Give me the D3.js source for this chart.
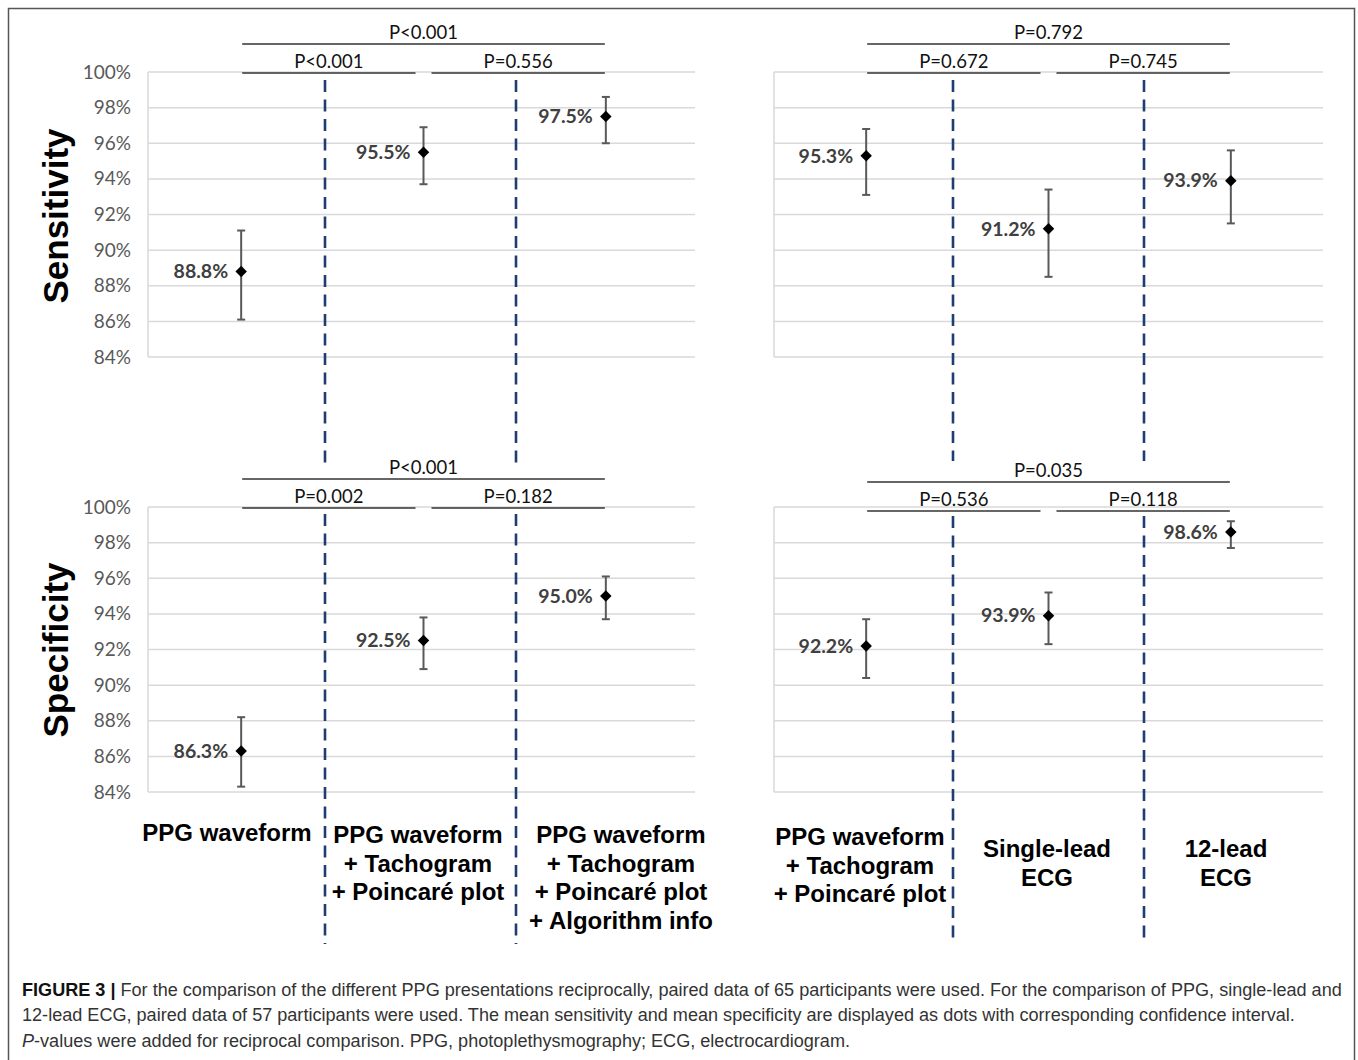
<!DOCTYPE html>
<html>
<head>
<meta charset="utf-8">
<script src="https://cdn.jsdelivr.net/npm/d3@7"></script>
<style>
  html, body { margin: 0; padding: 0; background: #fff; }
  svg { display: block; }
</style>
</head>
<body>
<svg id="chart" width="1358" height="1060"></svg>
<script>
// ---------------- DATA ----------------
const yTicks = [84, 86, 88, 90, 92, 94, 96, 98, 100];

const categoriesPPG = ["PPG waveform", "PPG + Tachogram + Poincaré", "PPG + Tachogram + Poincaré + Algorithm"];
const labelLinesPPG = [
  ["PPG waveform"],
  ["PPG waveform", "+ Tachogram", "+ Poincaré plot"],
  ["PPG waveform", "+ Tachogram", "+ Poincaré plot", "+ Algorithm info"]
];
const categoriesCmp = ["PPG", "Single-lead ECG", "12-lead ECG"];
const labelLinesCmp = [
  ["PPG waveform", "+ Tachogram", "+ Poincaré plot"],
  ["Single-lead", "ECG"],
  ["12-lead", "ECG"]
];

// Sensitivity, PPG presentations
const sensPPGMean = [88.8, 95.5, 97.5];
const sensPPGLow  = [86.1, 93.7, 96.0];
const sensPPGHigh = [91.1, 96.9, 98.6];
const sensPPGP    = ["P<0.001", "P=0.556", "P<0.001"]; // 1-2, 2-3, 1-3

// Sensitivity, PPG vs ECG
const sensCmpMean = [95.3, 91.2, 93.9];
const sensCmpLow  = [93.1, 88.5, 91.5];
const sensCmpHigh = [96.8, 93.4, 95.6];
const sensCmpP    = ["P=0.672", "P=0.745", "P=0.792"];

// Specificity, PPG presentations
const specPPGMean = [86.3, 92.5, 95.0];
const specPPGLow  = [84.3, 90.9, 93.7];
const specPPGHigh = [88.2, 93.8, 96.1];
const specPPGP    = ["P=0.002", "P=0.182", "P<0.001"];

// Specificity, PPG vs ECG
const specCmpMean = [92.2, 93.9, 98.6];
const specCmpLow  = [90.4, 92.3, 97.7];
const specCmpHigh = [93.7, 95.2, 99.2];
const specCmpP    = ["P=0.536", "P=0.118", "P=0.035"];

// ---------------- LAYOUT ----------------
const W = 1358, H = 1060;
const svg = d3.select("#chart");
svg.append("rect").attr("width", W).attr("height", H).attr("fill", "#fff");
svg.append("rect").attr("x", 8.5).attr("y", 8.5).attr("width", 1346).attr("height", 1070)
  .attr("fill", "none").attr("stroke", "#555").attr("stroke-width", 1.5);

const tickFont = "Lato, 'Open Sans', 'Liberation Sans', sans-serif";
const boldFont = "'Liberation Sans', Arial, Helvetica, sans-serif";

const columns = {
  left:  { x0: 148, x1: 695, bandRange: [150, 697], sepX: [325, 516], segs: [[80, 464], [514, 944]],
           labelX: [227, 418, 621], labelY: [841, 843, 843] },
  right: { x0: 774, x1: 1323, bandRange: [775, 1322], sepX: [953, 1144], segs: [[80, 461], [516, 941]],
           labelX: [860, 1047, 1226], labelY: [845, 857, 857] }
};
const rows = {
  top:    { yTop: 72,  yBot: 357 },
  bottom: { yTop: 507, yBot: 792 }
};

function drawPanel(col, row, cats, mean, low, high, pv, showTicks, pShift) {
  const g = svg.append("g");
  const x = d3.scaleBand().domain(cats).range(col.bandRange);
  const cx = c => x(c) + x.bandwidth() / 2;
  const y = d3.scaleLinear().domain([84, 100]).range([row.yBot, row.yTop]);

  // gridlines
  g.append("g").selectAll("line").data(yTicks).join("line")
    .attr("x1", col.x0).attr("x2", col.x1)
    .attr("y1", d => y(d)).attr("y2", d => y(d))
    .attr("stroke", "#d9d9d9").attr("stroke-width", 1.5);
  // left axis line
  g.append("line").attr("x1", col.x0).attr("x2", col.x0)
    .attr("y1", y(100)).attr("y2", y(84)).attr("stroke", "#d9d9d9").attr("stroke-width", 1.5);

  if (showTicks) {
    const axis = d3.axisLeft(y).tickValues(yTicks).tickFormat(d => d + "%").tickSize(0).tickPadding(17);
    const ag = g.append("g").attr("transform", `translate(${col.x0},0)`).call(axis);
    ag.select(".domain").remove();
    ag.selectAll("text").attr("fill", "#595959").attr("font-size", 19)
      .attr("font-family", tickFont);
  }

  const pts = cats.map((c, i) => ({ c, m: mean[i], lo: low[i], hi: high[i] }));
  // error bars
  const eb = g.append("g").attr("stroke", "#595959").attr("stroke-width", 2);
  eb.selectAll(".v").data(pts).join("line")
    .attr("x1", d => cx(d.c)).attr("x2", d => cx(d.c))
    .attr("y1", d => y(d.lo)).attr("y2", d => y(d.hi));
  eb.selectAll(".capHi").data(pts).join("line")
    .attr("x1", d => cx(d.c) - 4).attr("x2", d => cx(d.c) + 4)
    .attr("y1", d => y(d.hi)).attr("y2", d => y(d.hi));
  eb.selectAll(".capLo").data(pts).join("line")
    .attr("x1", d => cx(d.c) - 4).attr("x2", d => cx(d.c) + 4)
    .attr("y1", d => y(d.lo)).attr("y2", d => y(d.lo));
  // markers
  g.append("g").selectAll("path").data(pts).join("path")
    .attr("d", d3.symbol(d3.symbolDiamond2, 84))
    .attr("transform", d => `translate(${cx(d.c)},${y(d.m)})`)
    .attr("fill", "#000");
  // value labels
  g.append("g").selectAll("text").data(pts).join("text")
    .attr("x", d => cx(d.c) - 13).attr("y", d => y(d.m))
    .attr("dy", "0.35em").attr("text-anchor", "end")
    .attr("font-family", tickFont).attr("font-weight", "bold").attr("font-size", 19.5)
    .attr("fill", "#404040")
    .text(d => d.m.toFixed(1) + "%");

  // p-value brackets
  const c0 = cx(cats[0]), c1 = cx(cats[1]), c2 = cx(cats[2]);
  const innerY = row.yTop + 1 + pShift, outerY = row.yTop - 28 + pShift;
  const bars = [
    { x1: c0 + 1, x2: c1 - 8, y: innerY, t: pv[0] },
    { x1: c1 + 8, x2: c2 - 1, y: innerY, t: pv[1] },
    { x1: c0 + 1, x2: c2 - 1, y: outerY, t: pv[2] }
  ];
  const pg = g.append("g");
  pg.selectAll("line").data(bars).join("line")
    .attr("x1", d => d.x1).attr("x2", d => d.x2).attr("y1", d => d.y).attr("y2", d => d.y)
    .attr("stroke", "#333").attr("stroke-width", 1.6);
  pg.selectAll("text").data(bars).join("text")
    .attr("x", d => (d.x1 + d.x2) / 2).attr("y", d => d.y - 5)
    .attr("text-anchor", "middle").attr("font-family", tickFont).attr("font-size", 18.5)
    .attr("fill", "#111").text(d => d.t);
}

drawPanel(columns.left,  rows.top,    categoriesPPG, sensPPGMean, sensPPGLow, sensPPGHigh, sensPPGP, true, 0);
drawPanel(columns.right, rows.top,    categoriesCmp, sensCmpMean, sensCmpLow, sensCmpHigh, sensCmpP, false, 0);
drawPanel(columns.left,  rows.bottom, categoriesPPG, specPPGMean, specPPGLow, specPPGHigh, specPPGP, true, 0);
drawPanel(columns.right, rows.bottom, categoriesCmp, specCmpMean, specCmpLow, specCmpHigh, specCmpP, false, 3);

// dashed separators
Object.values(columns).forEach(col => {
  col.sepX.forEach(sx => {
    col.segs.forEach(s => {
      svg.append("line").attr("x1", sx).attr("x2", sx).attr("y1", s[0]).attr("y2", s[1])
        .attr("stroke", "#1f3d73").attr("stroke-width", 2.6).attr("stroke-dasharray", "12,7.5");
    });
  });
});

// category labels
function drawLabels(col, lines) {
  lines.forEach((ls, i) => {
    const t = svg.append("text").attr("text-anchor", "middle")
      .attr("font-family", boldFont).attr("font-weight", "bold").attr("font-size", 24)
      .attr("fill", "#000");
    ls.forEach((l, j) => {
      t.append("tspan").attr("x", col.labelX[i]).attr("y", col.labelY[i] + j * 28.7).text(l);
    });
  });
}
drawLabels(columns.left, labelLinesPPG);
drawLabels(columns.right, labelLinesCmp);

// y-axis titles
[["Sensitivity", 216], ["Specificity", 650]].forEach(([t, cy]) => {
  svg.append("text").attr("transform", `translate(68,${cy}) rotate(-90)`)
    .attr("text-anchor", "middle").attr("font-family", boldFont).attr("font-weight", "bold")
    .attr("font-size", 35).attr("fill", "#000").text(t);
});

// caption
const capFont = "'Liberation Sans', Arial, Helvetica, sans-serif";
const cap = svg.append("g").attr("font-family", capFont).attr("fill", "#333");
const l1 = cap.append("text").attr("x", 22).attr("y", 996).attr("font-size", 17);
l1.append("tspan").attr("font-weight", "bold").attr("fill", "#111").text("FIGURE 3 |");
l1.append("tspan").text(" For the comparison of the different PPG presentations reciprocally, paired data of 65 participants were used. For the comparison of PPG, single-lead and");
const l2 = cap.append("text").attr("x", 22).attr("y", 1021).attr("font-size", 17)
  .text("12-lead ECG, paired data of 57 participants were used. The mean sensitivity and mean specificity are displayed as dots with corresponding confidence interval.");
const l3 = cap.append("text").attr("x", 22).attr("y", 1047).attr("font-size", 17);
l3.append("tspan").attr("font-style", "italic").text("P");
l3.append("tspan").text("-values were added for reciprocal comparison. PPG, photoplethysmography; ECG, electrocardiogram.");
const w1 = l1.node().getComputedTextLength();
const fs = 17 * 1320 / w1;
[l1, l2, l3].forEach(t => t.attr("font-size", fs));
</script>
</body>
</html>
